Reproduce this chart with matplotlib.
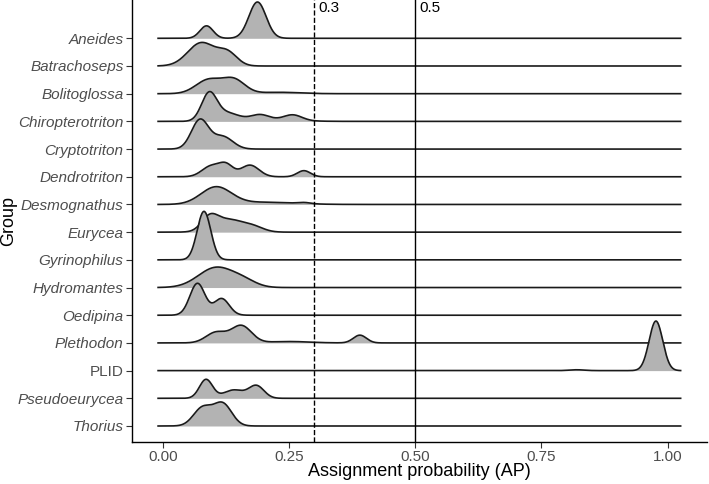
import numpy as np
import matplotlib
matplotlib.use("Agg")
import matplotlib.pyplot as plt

plt.rcParams['font.family'] = ['Liberation Sans', 'DejaVu Sans']

# groups, top to bottom
groups = ["Aneides", "Batrachoseps", "Bolitoglossa", "Chiropterotriton",
          "Cryptotriton", "Dendrotriton", "Desmognathus", "Eurycea",
          "Gyrinophilus", "Hydromantes", "Oedipina", "Plethodon", "PLID",
          "Pseudoeurycea", "Thorius"]

# density modes: (AP location, spread, ridge height)
modes = {
    "Aneides": [(0.086, 0.013, 0.45), (0.187, 0.017, 1.31)],
    "Batrachoseps": [(0.076, 0.027, 0.84), (0.128, 0.019, 0.45)],
    "Bolitoglossa": [(0.09, 0.025, 0.5), (0.14, 0.022, 0.5), (0.23, 0.04, 0.05)],
    "Chiropterotriton": [(0.091, 0.015, 0.95), (0.125, 0.025, 0.3),
                         (0.192, 0.018, 0.2), (0.257, 0.018, 0.2), (0.22, 0.05, 0.05)],
    "Cryptotriton": [(0.073, 0.017, 1.05), (0.118, 0.02, 0.45)],
    "Dendrotriton": [(0.095, 0.018, 0.38), (0.125, 0.014, 0.4),
                     (0.172, 0.018, 0.42), (0.279, 0.013, 0.22)],
    "Desmognathus": [(0.105, 0.03, 0.62), (0.2, 0.06, 0.08), (0.28, 0.012, 0.04)],
    "Eurycea": [(0.092, 0.016, 0.45), (0.13, 0.03, 0.45), (0.18, 0.02, 0.15)],
    "Gyrinophilus": [(0.081, 0.0135, 1.75)],
    "Hydromantes": [(0.105, 0.035, 0.72), (0.16, 0.025, 0.2)],
    "Oedipina": [(0.068, 0.015, 1.15), (0.116, 0.015, 0.6)],
    "Plethodon": [(0.105, 0.02, 0.38), (0.155, 0.02, 0.62), (0.25, 0.04, 0.05),
                  (0.39, 0.013, 0.28)],
    "PLID": [(0.977, 0.0135, 1.79), (0.82, 0.015, 0.03)],
    "Pseudoeurycea": [(0.085, 0.013, 0.68), (0.14, 0.02, 0.3), (0.185, 0.015, 0.45)],
    "Thorius": [(0.078, 0.018, 0.65), (0.118, 0.018, 0.8)],
}
ap_min, ap_max = -0.01, 1.026
cutoffs = [0.3, 0.5]
cutoff_styles = ["--", "-"]
x_ticks = [0.0, 0.25, 0.5, 0.75, 1.0]

fig = plt.figure(figsize=(7.09, 4.84), dpi=100)
ax = fig.add_axes([0.186, 0.0874, 0.811, 0.9126])

xs = np.linspace(ap_min, ap_max, 1500)
n = len(groups)
for i, g in enumerate(groups):
    base = n - i
    dens = np.zeros_like(xs)
    for mu, sd, h in modes[g]:
        dens += h * np.exp(-0.5 * ((xs - mu) / sd) ** 2)
    z = 2 + i
    ax.fill_between(xs, base, base + dens, color="#B3B3B3", lw=0, zorder=z)
    ax.plot(xs, base + dens, color="#1A1A1A", lw=1.2, zorder=z + 0.5)

for c, ls in zip(cutoffs, cutoff_styles):
    ax.axvline(c, color="black", ls=ls, lw=1.0, zorder=50)
    ax.text(c + 0.008, 16.09, str(c), fontsize=11, va="center", ha="left")

ax.set_xlim(-0.062, 1.078)
ax.set_ylim(0.433, 16.383)
ax.set_yticks(range(n, 0, -1))
ax.set_yticklabels(groups, fontsize=11, color="#4D4D4D")
for lab in ax.get_yticklabels():
    if lab.get_text() != "PLID":
        lab.set_fontstyle("italic")
ax.set_xticks(x_ticks)
ax.set_xticklabels([f"{t:.2f}" for t in x_ticks], fontsize=11, color="#4D4D4D")
ax.tick_params(length=4, width=0.8, color="#333333", pad=2)
ax.set_xlabel("Assignment probability (AP)", fontsize=13)
ax.xaxis.set_label_coords(0.5, -0.068)
ax.xaxis.label.set_va("center")
ax.set_ylabel("Group", fontsize=13)
ax.yaxis.set_label_coords(-0.2135, 0.5)
ax.yaxis.label.set_va("center")
for s in ["top", "right"]:
    ax.spines[s].set_visible(False)
for s in ["left", "bottom"]:
    ax.spines[s].set_linewidth(1.0)

fig.savefig("out.png", dpi=100)
